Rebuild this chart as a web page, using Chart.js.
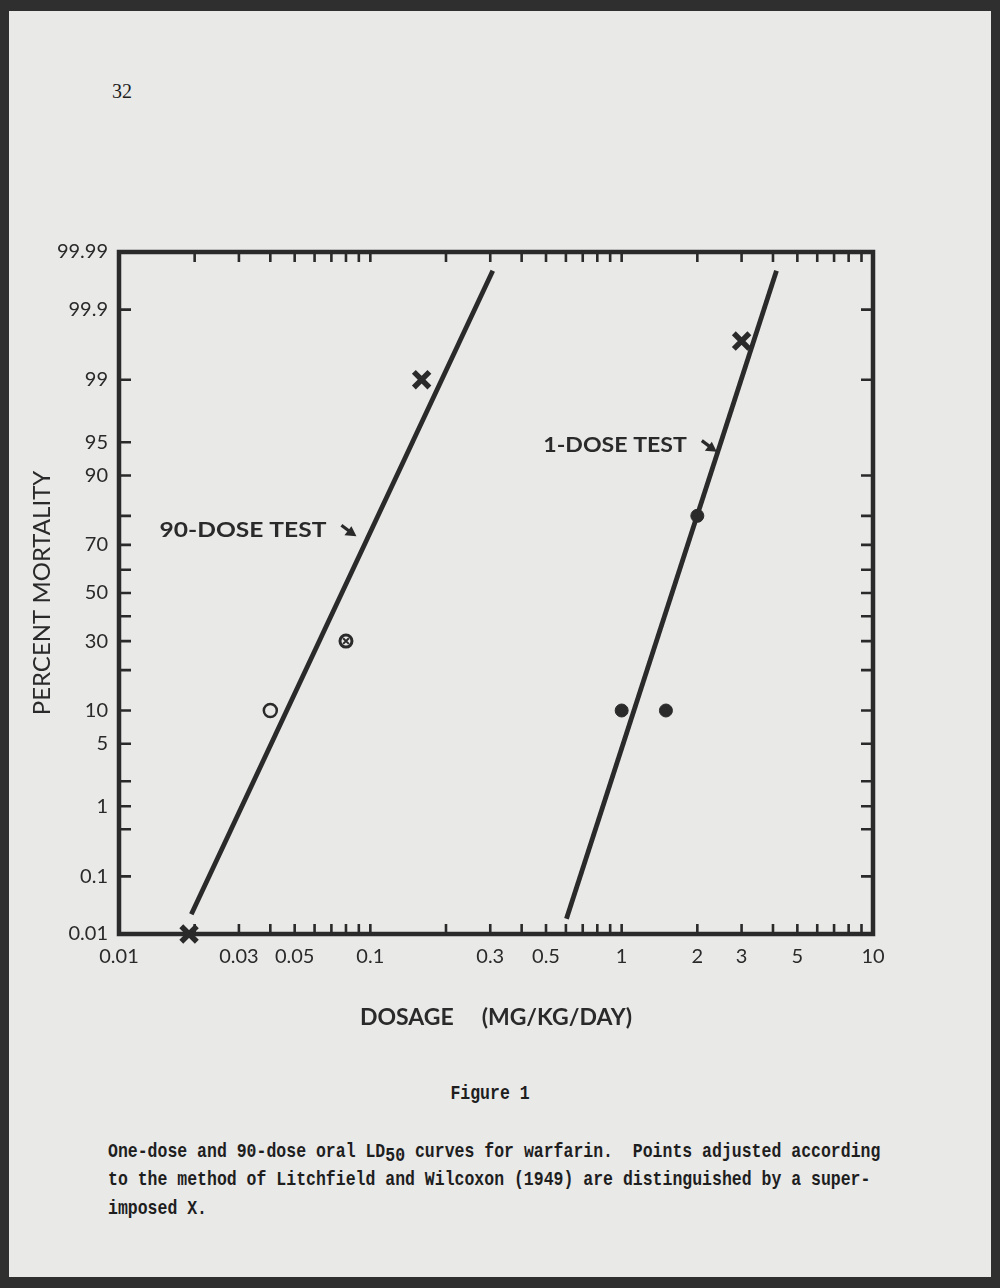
<!DOCTYPE html>
<html>
<head>
<meta charset="utf-8">
<script src="https://cdn.jsdelivr.net/npm/chart.js@4.4.1/dist/chart.umd.min.js"></script>
<style>
  html, body { margin: 0; padding: 0; }
  body { width: 1000px; height: 1288px; background: #2f2f2f; position: relative; overflow: hidden; }
  .page { position: absolute; left: 9px; top: 11px; width: 982px; height: 1266px; background: #e9e9e8; }
  #wrap { position: absolute; left: 0; top: 0; width: 1000px; height: 1060px; }
  .pagenum { position: absolute; left: 112px; top: 80px; font: 20px "Liberation Serif", serif; color: #1e1e1e; }
  .cap { position: absolute; left: 108px; font: bold 16.5px "Liberation Mono", monospace; color: #1e1e1e;
         white-space: pre; transform: scaleY(1.22); transform-origin: left top; }
  .fig { position: absolute; left: 0; width: 980px; top: 1082px; text-align: center;
         font: bold 16.5px "Liberation Mono", monospace; color: #1e1e1e; transform: scaleY(1.22); transform-origin: left top; }
  .sub { position: relative; top: 3px; }
</style>
</head>
<body>
<div class="page"></div>
<div class="pagenum">32</div>
<div id="wrap"><canvas id="chart" width="1000" height="1060"></canvas></div>
<div class="fig">Figure 1</div>
<div class="cap" style="top:1140px">One-dose and 90-dose oral LD<span class="sub">50</span> curves for warfarin.  Points adjusted according</div>
<div class="cap" style="top:1168px">to the method of Litchfield and Wilcoxon (1949) are distinguished by a super-</div>
<div class="cap" style="top:1197px">imposed X.</div>

<script>
// axis ticks (dose is log, mortality is probit)
const xTickVals = [0.01, 0.03, 0.05, 0.1, 0.3, 0.5, 1, 2, 3, 5, 10];
const xTickText = ['0.01', '0.03', '0.05', '0.1', '0.3', '0.5', '1', '2', '3', '5', '10'];
const xMinorVals = [0.02, 0.03, 0.04, 0.05, 0.06, 0.07, 0.08, 0.09, 0.1,
                    0.2, 0.3, 0.4, 0.5, 0.6, 0.7, 0.8, 0.9, 1,
                    2, 3, 4, 5, 6, 7, 8, 9];
const yTickPct = [0.01, 0.1, 1, 5, 10, 30, 50, 70, 90, 95, 99, 99.9, 99.99];
const yTickText = ['0.01', '0.1', '1', '5', '10', '30', '50', '70', '90', '95', '99', '99.9', '99.99'];
const yLeftMarks = [0.1, 0.5, 1, 2, 5, 10, 20, 30, 40, 50, 60, 70, 80, 90, 95, 99, 99.9];
const yRightMarks = [0.1, 0.5, 1, 2, 5, 10, 20, 30, 40, 50, 60, 70, 80, 90, 99, 99.9];

// fitted lines, two end points each
const line90Dose = [0.0194, 0.307];
const line90Pct = [0.023, 99.978];
const line1Dose = [0.603, 4.13];
const line1Pct = [0.019, 99.978];

// observed points, 90-dose test
const open90Dose = [0.04];
const open90Pct = [10];
const ringX90Dose = [0.08];
const ringX90Pct = [30];
const adj90Dose = [0.019, 0.16];
const adj90Pct = [0.01, 99];

// observed points, 1-dose test
const dot1Dose = [1.0, 1.5, 2.0];
const dot1Pct = [10, 10, 80];
const adj1Dose = [3.0];
const adj1Pct = [99.7];

// curve labels, anchored at dose / percent
const noteText = ['90-DOSE TEST', '1-DOSE TEST'];
const noteDose = [0.0145, 0.488];
const notePct = [75.3, 94.6];
const noteStretch = [1.17, 1.1]; // the hand lettering is wider than Lato

const ink = '#2a2a2a';
const paper = '#e9e9e8';

// inverse normal cdf (Acklam)
function probit(p) {
  const a = [-3.969683028665376e+01, 2.209460984245205e+02, -2.759285104469687e+02, 1.383577518672690e+02, -3.066479806614716e+01, 2.506628277459239e+00];
  const b = [-5.447609879822406e+01, 1.615858368580409e+02, -1.556989798598866e+02, 6.680131188771972e+01, -1.328068155288572e+01];
  const c = [-7.784894002430293e-03, -3.223964580411365e-01, -2.400758277161838e+00, -2.549732539343734e+00, 4.374664141464968e+00, 2.938163982698783e+00];
  const d = [7.784695709041462e-03, 3.224671290700398e-01, 2.445134137142996e+00, 3.754408661907416e+00];
  const pl = 0.02425;
  if (p < pl) {
    const q = Math.sqrt(-2 * Math.log(p));
    return (((((c[0]*q + c[1])*q + c[2])*q + c[3])*q + c[4])*q + c[5]) / ((((d[0]*q + d[1])*q + d[2])*q + d[3])*q + 1);
  }
  if (p > 1 - pl) {
    const q = Math.sqrt(-2 * Math.log(1 - p));
    return -(((((c[0]*q + c[1])*q + c[2])*q + c[3])*q + c[4])*q + c[5]) / ((((d[0]*q + d[1])*q + d[2])*q + d[3])*q + 1);
  }
  const q = p - 0.5, r = q * q;
  return (((((a[0]*r + a[1])*r + a[2])*r + a[3])*r + a[4])*r + a[5])*q / (((((b[0]*r + b[1])*r + b[2])*r + b[3])*r + b[4])*r + 1);
}
const z = pct => probit(pct / 100);
const pts = (xs, ys) => xs.map((x, i) => ({x: x, y: z(ys[i])}));

// frame, inward ticks and the curve labels
const paperPlugin = {
  id: 'paper',
  beforeDatasetsDraw(chart) {
    const {ctx, chartArea: a, scales} = chart;
    ctx.save();
    ctx.strokeStyle = ink;
    ctx.lineCap = 'butt';
    ctx.lineWidth = 2.6;
    ctx.beginPath();
    xMinorVals.forEach(v => {
      const px = scales.x.getPixelForValue(v);
      ctx.moveTo(px, a.bottom); ctx.lineTo(px, a.bottom - 10);
      ctx.moveTo(px, a.top); ctx.lineTo(px, a.top + 10);
    });
    yLeftMarks.forEach(v => {
      const py = scales.y.getPixelForValue(z(v));
      ctx.moveTo(a.left, py); ctx.lineTo(a.left + 12, py);
    });
    yRightMarks.forEach(v => {
      const py = scales.y.getPixelForValue(z(v));
      ctx.moveTo(a.right, py); ctx.lineTo(a.right - 12, py);
    });
    ctx.stroke();
    ctx.lineWidth = 4.5;
    ctx.strokeRect(a.left, a.top, a.right - a.left, a.bottom - a.top);

    ctx.fillStyle = ink;
    ctx.font = 'bold 21px Lato';
    ctx.textBaseline = 'middle';
    noteText.forEach((t, i) => {
      const x = scales.x.getPixelForValue(noteDose[i]);
      const y = scales.y.getPixelForValue(z(notePct[i]));
      ctx.save();
      ctx.translate(x, y);
      ctx.scale(noteStretch[i], 1);
      ctx.fillText(t, 0, 0);
      ctx.restore();
      // little arrow pointing at the line
      const ax = x + ctx.measureText(t).width * noteStretch[i] + 15;
      ctx.lineWidth = 3.2;
      ctx.beginPath();
      ctx.moveTo(ax, y - 5); ctx.lineTo(ax + 8, y + 1);
      ctx.stroke();
      ctx.beginPath();
      ctx.moveTo(ax + 15, y + 6); ctx.lineTo(ax + 3, y + 5); ctx.lineTo(ax + 10, y - 4);
      ctx.closePath(); ctx.fill();
    });
    ctx.restore();
  }
};

const lineStyle = {type: 'line', showLine: true, borderColor: ink, borderWidth: 4.8, pointRadius: 0, fill: false, order: 5};

new Chart(document.getElementById('chart'), {
  type: 'scatter',
  data: {
    datasets: [
      Object.assign({label: '90-dose fit', data: pts(line90Dose, line90Pct)}, lineStyle),
      Object.assign({label: '1-dose fit', data: pts(line1Dose, line1Pct)}, lineStyle),
      {label: '90-dose', data: pts(open90Dose, open90Pct), pointRadius: 6.5, pointBorderWidth: 2.5,
       pointBackgroundColor: paper, pointBorderColor: ink, order: 1},
      {label: '90-dose ring', data: pts(ringX90Dose, ringX90Pct), pointRadius: 6, pointBorderWidth: 3,
       pointBackgroundColor: paper, pointBorderColor: ink, order: 2},
      {label: '90-dose ring x', data: pts(ringX90Dose, ringX90Pct), pointStyle: 'crossRot', pointRadius: 4,
       pointBorderWidth: 2, pointBorderColor: ink, order: 1},
      {label: '90-dose adjusted', data: pts(adj90Dose, adj90Pct), pointStyle: 'crossRot', pointRadius: 11,
       pointBorderWidth: 5.5, pointBorderColor: ink, order: 1},
      {label: '1-dose', data: pts(dot1Dose, dot1Pct), pointRadius: 6.5, pointBorderWidth: 1,
       pointBackgroundColor: ink, pointBorderColor: ink, order: 1},
      {label: '1-dose adjusted', data: pts(adj1Dose, adj1Pct), pointStyle: 'crossRot', pointRadius: 11,
       pointBorderWidth: 5.5, pointBorderColor: ink, order: 1}
    ]
  },
  options: {
    responsive: false,
    animation: false,
    clip: false,
    layout: {padding: {left: 0, top: 252, right: 127, bottom: 0}},
    plugins: {legend: {display: false}, tooltip: {enabled: false}},
    scales: {
      x: {
        type: 'logarithmic', min: 0.01, max: 10,
        grid: {display: false, drawTicks: false}, border: {display: false},
        afterBuildTicks: s => { s.ticks = xTickVals.map(v => ({value: v})); },
        afterFit: s => { s.height = 126; },
        ticks: {
          autoSkip: false, maxRotation: 0, padding: 11, color: ink,
          font: {family: 'Lato', size: 20},
          callback: v => xTickText[xTickVals.indexOf(v)]
        },
        title: {display: true, text: 'DOSAGE     (MG/KG/DAY)', color: ink,
                font: {family: 'Lato', size: 23, weight: 'bold'}, padding: {top: 0, bottom: 29}}
      },
      y: {
        type: 'linear', min: z(0.01), max: z(99.99),
        grid: {display: false, drawTicks: false}, border: {display: false},
        afterBuildTicks: s => { s.ticks = yTickPct.map(p => ({value: z(p)})); },
        afterFit: s => { s.width = 119; },
        ticks: {
          autoSkip: false, padding: 11, color: ink,
          font: {family: 'Lato', size: 20},
          callback: (v, i) => yTickText[i]
        },
        title: {display: true, text: 'PERCENT MORTALITY', color: ink,
                font: {family: 'Lato', size: 24}, padding: {top: 28, bottom: 0}}
      }
    }
  },
  plugins: [paperPlugin]
});
</script>
</body>
</html>
